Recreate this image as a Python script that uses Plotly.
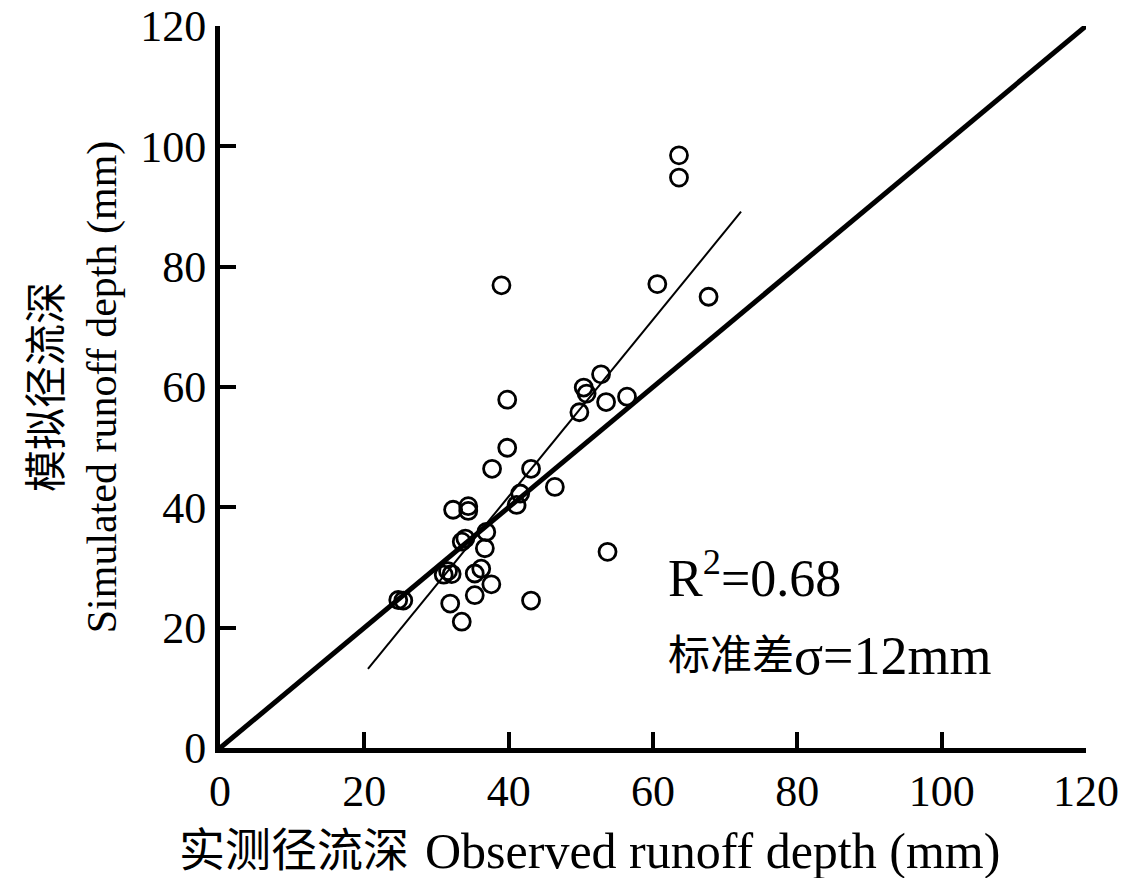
import plotly.graph_objects as go

# Observed vs simulated runoff depth (mm)
observed = [24.7, 25.4, 31.0, 31.6, 32.1, 31.9, 33.5, 32.3, 34.4, 34.4,
            33.5, 34.0, 36.9, 36.7, 35.3, 36.2, 37.6, 35.3, 43.1, 37.7,
            43.1, 39.8, 39.8, 39.0, 41.1, 41.6, 46.4, 49.8, 50.4, 50.8,
            52.8, 53.5, 56.4, 53.7, 60.6, 67.7, 63.6, 63.6]
simulated = [24.6, 24.5, 28.8, 29.4, 28.9, 24.0, 21.0, 39.6, 40.2, 39.4,
             34.3, 34.8, 35.9, 33.2, 29.0, 29.8, 27.2, 25.4, 24.5, 46.4,
             46.4, 49.9, 57.9, 76.9, 40.4, 42.3, 43.4, 55.8, 59.9, 58.9,
             62.1, 57.5, 58.4, 32.6, 77.1, 75.0, 94.8, 98.5]

# 1:1 reference line
one_to_one = [0, 120]

# Linear fit of simulated on observed
fit_slope = 1.47
fit_intercept = -17.0
fit_x = [20.5, 72.2]
fit_y = [fit_slope * v + fit_intercept for v in fit_x]

tick_vals = [0, 20, 40, 60, 80, 100, 120]

serif = "Liberation Serif, Times New Roman, Noto Sans CJK SC, serif"

fig = go.Figure()
fig.add_trace(go.Scatter(x=one_to_one, y=one_to_one, mode="lines",
                         line=dict(color="black", width=5), showlegend=False))
fig.add_trace(go.Scatter(x=fit_x, y=fit_y, mode="lines",
                         line=dict(color="black", width=2), showlegend=False))
fig.add_trace(go.Scatter(x=observed, y=simulated, mode="markers",
                         marker=dict(symbol="circle-open", size=17, color="black",
                                     line=dict(width=2.8, color="black")),
                         showlegend=False, cliponaxis=False))

axis_common = dict(range=[0, 120], tickvals=tick_vals, showgrid=False, zeroline=False,
                   showline=True, linecolor="black", linewidth=5, automargin=False,
                   ticks="inside", ticklen=16, tickwidth=4, tickcolor="black",
                   tickfont=dict(family=serif, size=44, color="black"))


def label(text, x, y, size, xref="x", yref="y"):
    return dict(x=x, y=y, xref=xref, yref=yref, xanchor="left", yanchor="middle",
                text=text, showarrow=False, borderpad=0,
                font=dict(family=serif, size=size, color="black"))


fig.update_layout(
    width=1128, height=878,
    margin=dict(l=220, r=42, t=26, b=130),
    paper_bgcolor="white", plot_bgcolor="white",
    xaxis=dict(**axis_common),
    yaxis=dict(**axis_common,
               title=dict(text="模拟径流深<br>Simulated runoff depth (mm)",
                          font=dict(family=serif, size=42, color="black"), standoff=12)),
    annotations=[
        # x-axis title, set slightly left of centre
        label("实测径流深", -0.048, -0.142, 46, xref="paper", yref="paper"),
        label("Observed runoff depth (mm)", 0.235, -0.142, 50, xref="paper", yref="paper"),
        # statistics
        label("R<sup>2</sup>=0.68", 62, 28.8, 52),
        label("标准差", 62, 15.3, 42),
        label("σ=12mm", 79.4, 15.3, 54),
    ],
)

fig.write_html("out.html")
